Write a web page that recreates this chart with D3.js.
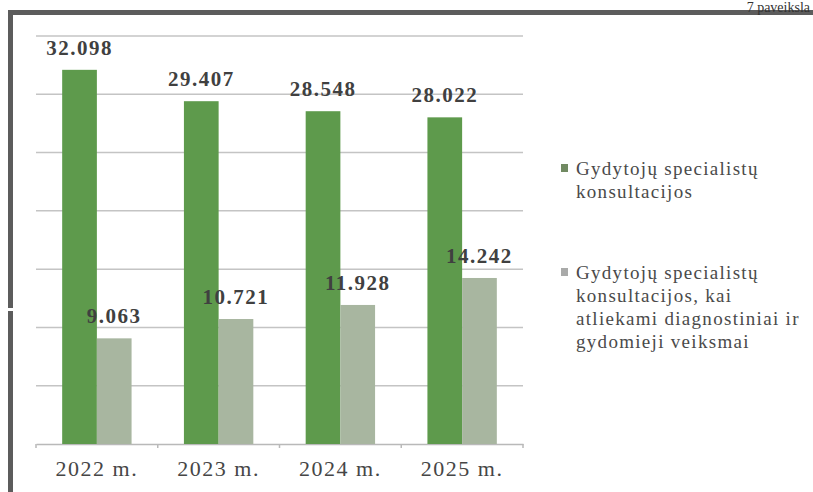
<!DOCTYPE html>
<html>
<head>
<meta charset="utf-8">
<script src="https://cdn.jsdelivr.net/npm/d3@7"></script>
<style>
  html, body { margin: 0; padding: 0; background: #fff; }
  svg { display: block; }
  svg text { font-family: "Liberation Serif", "DejaVu Serif", serif; }
</style>
</head>
<body>
<svg id="chart" width="813" height="492"></svg>
<script>
const categories = ["2022 m.", "2023 m.", "2024 m.", "2025 m."];
const seriesNames = [
  "Gydytojų specialistų konsultacijos",
  "Gydytojų specialistų konsultacijos, kai atliekami diagnostiniai ir gydomieji veiksmai"
];
const consultations = [32.098, 29.407, 28.548, 28.022];
const consultationsWithProcedures = [9.063, 10.721, 11.928, 14.242];
const yTicks = [0, 5, 10, 15, 20, 25, 30, 35];
const legendLines = [
  ["Gydytojų specialistų", "konsultacijos"],
  ["Gydytojų specialistų", "konsultacijos, kai", "atliekami diagnostiniai ir", "gydomieji veiksmai"]
];
const figureCaption = "7 paveiksla";

const colors = ["#5e9a4c", "#a8b6a0"];
const legendColors = ["#718a62", "#a9aaa9"];

const svg = d3.select("#chart");

// frame of the scanned page
svg.append("rect").attr("x", 9).attr("y", 10).attr("width", 804).attr("height", 5).attr("fill", "#5c5c5c");
svg.append("rect").attr("x", 8).attr("y", 10).attr("width", 5).attr("height", 298).attr("fill", "#5c5c5c");
svg.append("rect").attr("x", 8).attr("y", 311).attr("width", 5).attr("height", 181).attr("fill", "#5c5c5c");
svg.append("text").attr("x", 810).attr("y", 12).attr("text-anchor", "end")
  .attr("font-size", 14).attr("fill", "#333").text(figureCaption);

const plotLeft = 36, plotRight = 523, plotTop = 36, plotBottom = 444;
const y = d3.scaleLinear().domain([0, 35]).range([plotBottom, plotTop]);
const x0 = d3.scaleBand().domain(categories).range([plotLeft, plotRight]).paddingInner(0.43).paddingOuter(0.215);
const x1 = d3.scaleBand().domain([0, 1]).range([0, x0.bandwidth()]);

// gridlines
svg.append("g").selectAll("line").data(yTicks.filter(d => d > 0)).join("line")
  .attr("x1", plotLeft).attr("x2", plotRight)
  .attr("y1", d => y(d)).attr("y2", d => y(d))
  .attr("stroke", "#c4c4c4").attr("stroke-width", 1.5);

// x axis
const xAxis = d3.axisBottom(x0).tickSize(0).tickPadding(0).tickFormat(d => d);
const ax = svg.append("g").attr("transform", `translate(0,${plotBottom})`).call(xAxis);
ax.attr("font-family", null);
ax.select(".domain").attr("stroke", "#b9b9b9").attr("stroke-width", 1.5);
ax.selectAll("text").attr("font-size", 22)
  .attr("letter-spacing", 1.5).attr("fill", "#464646").attr("dy", null).attr("y", 32);
const step = x0.step();
const boundaries = categories.map(c => x0(c) - step * x0.paddingInner() / 2).concat([plotRight]);
svg.append("g").selectAll("line").data(boundaries).join("line")
  .attr("x1", d => d).attr("x2", d => d).attr("y1", plotBottom).attr("y2", plotBottom + 4)
  .attr("stroke", "#b9b9b9").attr("stroke-width", 1.5);

const series = [consultations, consultationsWithProcedures];
const groups = svg.append("g").selectAll("g").data(categories).join("g")
  .attr("transform", d => `translate(${x0(d)},0)`);

groups.each(function(cat, i) {
  const g = d3.select(this);
  series.forEach((vals, s) => {
    g.append("rect")
      .attr("x", x1(s)).attr("width", x1.bandwidth())
      .attr("y", y(vals[i])).attr("height", plotBottom - y(vals[i]))
      .attr("fill", colors[s]);
  });
  series.forEach((vals, s) => {
    g.append("text")
      .attr("x", x1(s) + x1.bandwidth() / 2)
      .attr("y", y(vals[i]) - 15)
      .attr("text-anchor", "middle")
      .attr("font-weight", "bold").attr("font-size", 21)
      .attr("letter-spacing", 1.5)
      .attr("fill", "#404040")
      .text(d3.format(".3f")(vals[i]));
  });
});

// legend
const legendY = [175, 279];
legendLines.forEach((lines, s) => {
  const lg = svg.append("g").attr("transform", `translate(561,${legendY[s]})`);
  lg.append("rect").attr("x", 0).attr("y", -11).attr("width", 7).attr("height", 8).attr("fill", legendColors[s]);
  lg.append("text").attr("font-size", 19).attr("letter-spacing", 1.3).attr("fill", "#4a4a4a")
    .selectAll("tspan").data(lines).join("tspan")
    .attr("x", 15).attr("y", (d, k) => k * 23).text(d => d);
});
</script>
</body>
</html>
